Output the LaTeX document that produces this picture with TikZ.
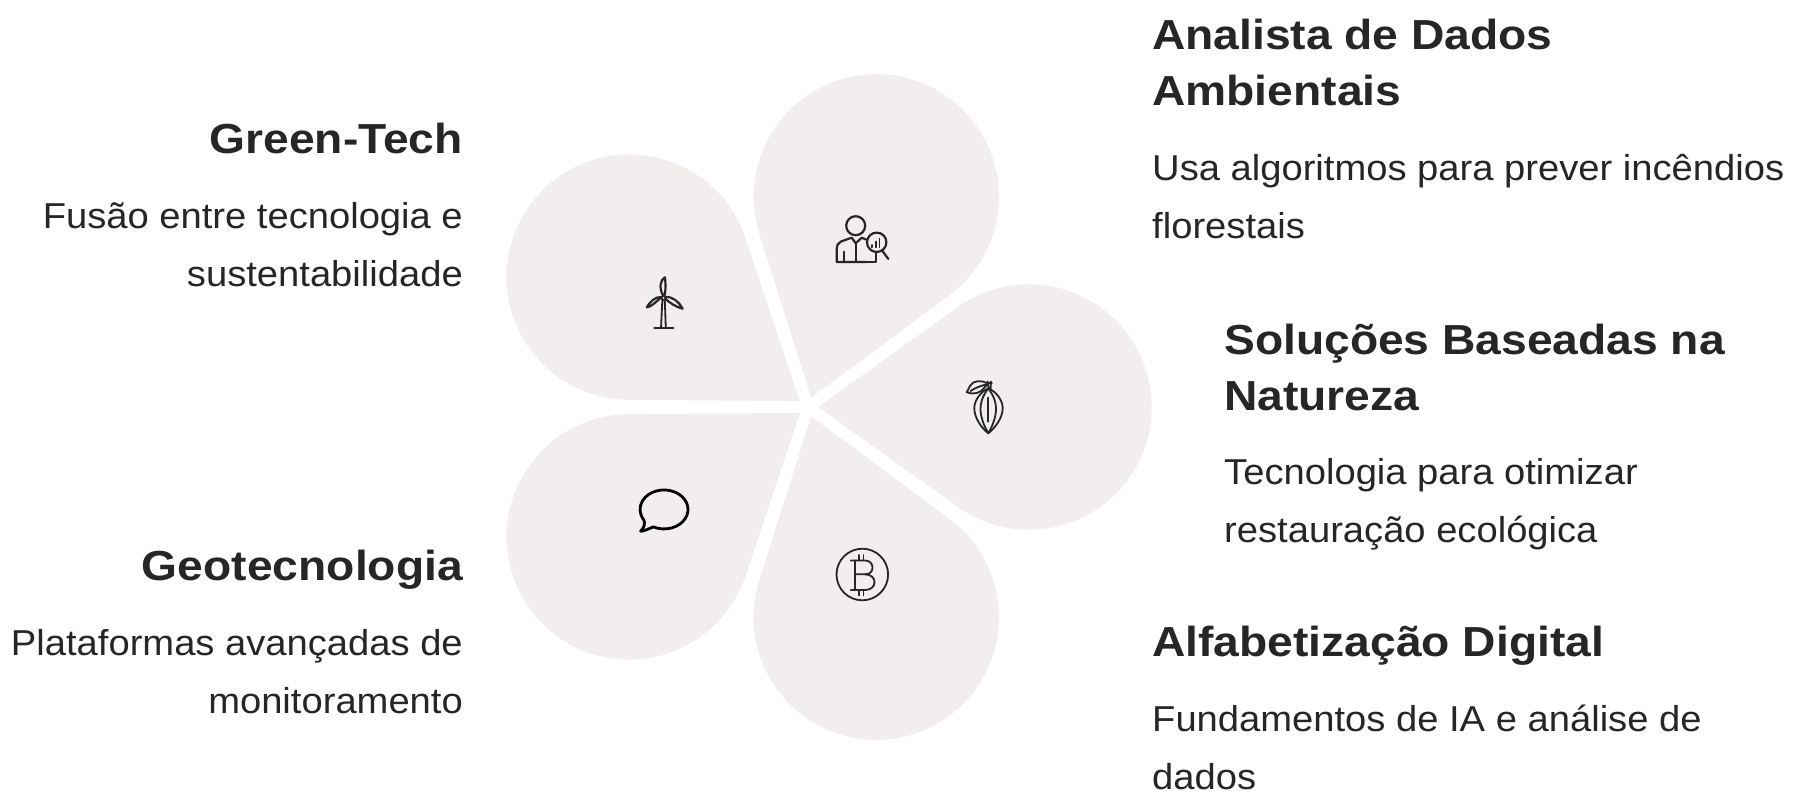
\documentclass[tikz,border=0pt]{standalone}
\usepackage{fontspec}
\setmainfont{Liberation Sans}
\newfontfamily\headfont[FakeStretch=1.10]{Liberation Sans}
\newfontfamily\bodyfont[FakeStretch=1.06]{Liberation Sans}
\definecolor{petal}{HTML}{F1EEED}
\definecolor{ink}{HTML}{262626}
\newcommand{\flowerpetal}[1]{%
  \fill[petal,rotate around={#1:(808,407)}] (818,407) -- ++(35.56:171.66) arc[start angle=125.56,end angle=-125.56,radius=122.7] -- cycle;}
\tikzset{
  heading/.style={inner sep=0pt,text=ink,font=\headfont\fontsize{42}{56}\selectfont\bfseries},
  bodytext/.style={inner sep=0pt,text=ink,font=\bodyfont\fontsize{36}{58}\selectfont},
  icon/.style={draw=ink,line width=2.2pt,line cap=round,line join=round},
  thinicon/.style={draw=ink,line width=1.8pt,line cap=round,line join=round},
}
\begin{document}
\begin{tikzpicture}[x=1pt,y=-1pt]
\useasboundingbox (0,0) rectangle (1806,791);
\foreach \a in {0,72,144,216,288} {\flowerpetal{\a}}
% texts
\node[heading,anchor=base west,align=left] (t1) at (1152,106) {Analista de Dados\\Ambientais};
\node[bodytext,anchor=base west,align=left] (b1) at (1152,239) {Usa algoritmos para prever incêndios\\florestais};
\node[heading,anchor=base west,align=left] (t2) at (1224,410) {Soluções Baseadas na\\Natureza};
\node[bodytext,anchor=base west,align=left] (b2) at (1224,542) {Tecnologia para otimizar\\restauração ecológica};
\node[heading,anchor=base west,align=left] (t3) at (1152,656) {Alfabetização Digital};
\node[bodytext,anchor=base west,align=left] (b3) at (1152,789) {Fundamentos de IA e análise de\\dados};
\node[heading,anchor=base east,align=right] (t4) at (463,154) {Green-Tech};
\node[bodytext,anchor=base east,align=right] (b4) at (463,287) {Fusão entre tecnologia e\\sustentabilidade};
\node[heading,anchor=base east,align=right] (t5) at (463,580) {Geotecnologia};
\node[bodytext,anchor=base east,align=right] (b5) at (463,713) {Plataformas avançadas de\\monitoramento};
% analyst icon
\draw[icon] (855.7,225.7) circle[radius=9.5];
\draw[icon] (867,262) -- (836.7,262) -- (836.7,250) .. controls (836.7,245) and (838,243) .. (841,241.5) -- (851.7,237.7) -- (855.7,243.3) -- (861.7,237.7) -- (866,239.5);
\draw[icon] (855.7,243.3) -- (855.7,262) (844,251.7) -- (844,262) (867,262) -- (875.7,262) -- (875.7,252);
\draw[icon] (876.7,242.3) circle[radius=9.7];
\draw[icon] (882.3,250.7) -- (888.3,259);
\draw[thinicon] (871.7,247.3) -- (871.7,245) (875.7,247.3) -- (875.7,241.5) (879.5,247.3) -- (879.5,238.5);
% turbine icon
\draw[icon] (654.3,328.3) -- (673.3,328.3);
\draw[thinicon] (661,328) -- (662.3,300.5) (665.8,328) -- (664.8,300.5);
\draw[thinicon] (663.5,298) circle[radius=2];
\draw[icon] (663,295.5) .. controls (659,288) and (660,280) .. (665,277.3) .. controls (665.5,283) and (666,290) .. (664.5,295.5);
\draw[icon] (661.5,297) .. controls (656,302) and (651,307) .. (646.7,307.3) .. controls (650,302) and (655,296.5) .. (661.5,297);
\draw[icon] (665.5,297) .. controls (673,296.5) and (679,302) .. (682.7,308.7) .. controls (676,307) and (670,303) .. (665.5,299);
% cocoa icon
\draw[thinicon] (988.3,388.3) .. controls (997,392) and (1002.7,401) .. (1002.7,408) .. controls (1002.7,418) and (995,428) .. (988.3,433.3) .. controls (981.5,428) and (974.3,418) .. (974.3,408) .. controls (974.3,401) and (980,392) .. (988.3,388.3);
\draw[thinicon] (988.3,388.3) .. controls (982,397) and (980.5,403) .. (980.5,409) .. controls (980.5,417) and (984,426) .. (988.3,433.3) .. controls (992.5,426) and (996,417) .. (996,409) .. controls (996,403) and (994.5,397) .. (988.3,388.3);
\draw[thinicon] (988.3,397.7) -- (988.3,421.7);
\draw[thinicon] (988.8,389) -- (987.5,381.5) (990.5,390) -- (991,381.5) (986.5,383) -- (992,383);
\draw[thinicon] (988,383.5) .. controls (982,380) and (973,380) .. (970,386) -- (966.7,392.3) .. controls (973,395) and (981,393) .. (984,388) -- (988,383.5);
\draw[thinicon] (970.5,391) .. controls (975,388) and (980,386) .. (986,384.5);
% bitcoin icon
\draw[thinicon] (862.3,574.5) circle[radius=25.8];
\draw[thinicon] (855,560.5) -- (855,590);
\draw[thinicon] (850.7,560.5) -- (865,560.5) .. controls (870,560.5) and (872.5,564) .. (872.5,567.5) .. controls (872.5,571.5) and (870,574.3) .. (865,574.3) -- (855,574.3);
\draw[thinicon] (865,574.3) .. controls (871,574.3) and (874.5,578) .. (874.5,582) .. controls (874.5,586.5) and (871,590) .. (865,590) -- (850.7,590);
\draw[thinicon] (859.3,555) -- (859.3,560.5) (863.5,555) -- (863.5,560.5) (859.3,590) -- (859.3,595.5) (863.5,590) -- (863.5,595.5);
% speech icon
\draw[draw=black,line width=2.8pt,line join=round,line cap=round] (653.3,526.9) arc[start angle=116.5,end angle=-213.6,x radius=24,y radius=19.5] .. controls (645,524) and (644.5,527) .. (640.5,531.3) .. controls (645,531) and (649,528.5) .. (653.3,526.9) -- cycle;
\end{tikzpicture}
\end{document}
